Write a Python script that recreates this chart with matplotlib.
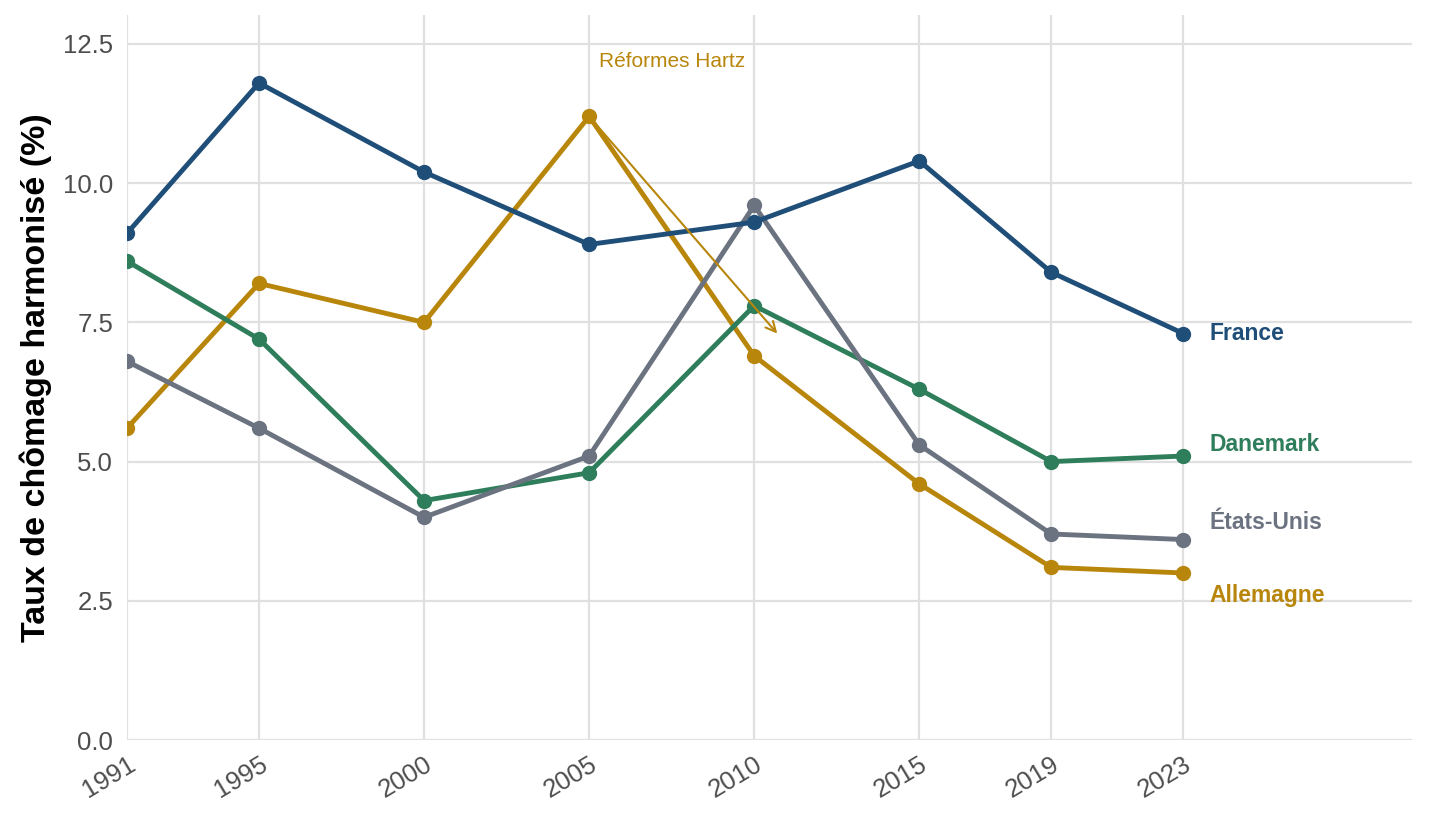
import matplotlib
matplotlib.use("Agg")
import matplotlib.pyplot as plt

plt.rcParams['font.family'] = ['Liberation Sans', 'DejaVu Sans']

years = [1991, 1995, 2000, 2005, 2010, 2015, 2019, 2023]
france = [9.1, 11.8, 10.2, 8.9, 9.3, 10.4, 8.4, 7.3]
allemagne = [5.6, 8.2, 7.5, 11.2, 6.9, 4.6, 3.1, 3.0]
danemark = [8.6, 7.2, 4.3, 4.8, 7.8, 6.3, 5.0, 5.1]
etats_unis = [6.8, 5.6, 4.0, 5.1, 9.6, 5.3, 3.7, 3.6]

series = [
    ("Allemagne", allemagne, "#b8860b", 2.6),
    ("Danemark", danemark, "#2e7d5b", 5.3),
    ("États-Unis", etats_unis, "#6b7280", 3.9),
    ("France", france, "#1f4e79", 7.3),
]

fig = plt.figure(figsize=(14.4, 8.25), dpi=100)
ax = fig.add_axes([0.0882, 0.103, 0.8924, 0.8788])

for name, vals, col, ly in series:
    ax.plot(years, vals, color=col, lw=3.5, marker='o', ms=10, solid_capstyle='round', zorder=3)
    ax.text(2023.8, ly, name, color=col, fontsize=16.5, fontweight='bold', va='center', ha='left')

ax.annotate("", xy=(2010.7, 7.3), xytext=(2005, 11.2),
            arrowprops=dict(arrowstyle='->', color='#b8860b', lw=1.5, mutation_scale=18, shrinkA=0, shrinkB=0),
            zorder=4)
ax.text(2005.3, 12.18, "Réformes Hartz", color='#b8860b', fontsize=15, ha='left', va='center')

ax.set_xlim(1991, 2029.93)
ax.set_ylim(0, 13.02)
ax.set_xticks(years)
ax.set_xticklabels([str(y) for y in years], rotation=31, ha='right', rotation_mode='anchor')
ax.set_yticks([0, 2.5, 5.0, 7.5, 10.0, 12.5])
ax.set_yticklabels(["0.0", "2.5", "5.0", "7.5", "10.0", "12.5"])
ax.tick_params(axis='both', length=0, labelsize=18.5, labelcolor='#4d4d4d')
ax.tick_params(axis='y', pad=10)
ax.tick_params(axis='x', pad=9)
for s in ax.spines.values():
    s.set_visible(False)
ax.grid(True, color='#e0e0e0', lw=1.6, zorder=0)
ax.set_axisbelow(True)
ax.set_ylabel("Taux de chômage harmonisé (%)", fontsize=24.5, fontweight='bold', color='black', labelpad=8)

fig.savefig("out.png", dpi=100, facecolor='white')
